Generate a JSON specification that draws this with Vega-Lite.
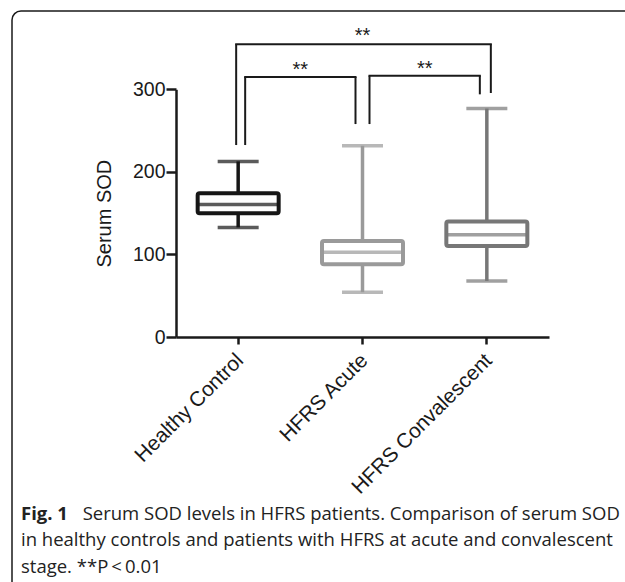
{
  "$schema": "https://vega.github.io/schema/vega-lite/v6.json",
  "width": 643,
  "height": 601,
  "autosize": "none",
  "padding": {"left": 12, "top": 11, "right": -30, "bottom": -30},
  "background": "white",
  "config": {
    "view": {"stroke": "#1a1a1a", "strokeWidth": 1.5, "cornerRadius": 9, "fill": "white"},
    "font": "Liberation Sans"
  },
  "title": {
    "text": "Fig. 1",
    "subtitle": [
      "\u200b\u2003\u2003\u2003\u2004Serum SOD levels in HFRS patients. Comparison of serum SOD",
      "in healthy controls and patients with HFRS at acute and convalescent",
      "stage. **P\u2009<\u20090.01"
    ],
    "orient": "top",
    "anchor": "start",
    "frame": "group",
    "offset": 0,
    "dx": 9,
    "dy": 580,
    "baseline": "alphabetic",
    "font": "Open Sans",
    "fontSize": 18.5,
    "fontWeight": "bold",
    "color": "#222222",
    "subtitleFont": "Open Sans",
    "subtitleFontSize": 18.5,
    "subtitleColor": "#222222",
    "subtitleLineHeight": 26.5,
    "subtitlePadding": -18.5
  },
  "datasets": {
    "boxes": [
      {"group": "Healthy Control", "lower": 132.7, "q1": 150, "median": 160.5, "q3": 174.2, "upper": 212.7},
      {"group": "HFRS Acute", "lower": 54.2, "q1": 88.2, "median": 102.5, "q3": 116.4, "upper": 231.5},
      {"group": "HFRS Convalescent", "lower": 67.9, "q1": 110.3, "median": 123.7, "q3": 139.9, "upper": 276.7}
    ],
    "outer": [
      {"from": "Healthy Control", "to": "HFRS Convalescent", "mid": "HFRS Acute", "top": 354.6, "left_end": 232.5, "right_end": 295.5, "label": "**"}
    ],
    "inner": [
      {"from": "Healthy Control", "to": "HFRS Acute", "top": 314.9, "left_end": 232.5, "right_end": 257.9, "label": "**"},
      {"from": "HFRS Acute", "to": "HFRS Convalescent", "top": 316.5, "left_end": 257.9, "right_end": 293.9, "label": "**"}
    ]
  },
  "layer": [
    {
      "data": {"name": "boxes"},
      "mark": {"type": "rule", "strokeWidth": 3.5},
      "encoding": {
        "x": {
          "field": "group", "type": "nominal", "sort": null,
          "scale": {"domain": ["Healthy Control", "HFRS Acute", "HFRS Convalescent"], "range": [164, 537], "paddingInner": 0, "paddingOuter": 0},
          "axis": {
            "orient": "bottom", "offset": -275, "title": null,
            "labelAngle": -45, "labelFont": "Liberation Sans", "labelFontSize": 20.8, "labelColor": "#1a1a1a",
            "labelPadding": 6, "labelOffset": -5, "labelLimit": 0, "tickSize": 7, "tickWidth": 2.5, "tickColor": "#1a1a1a",
            "domainWidth": 2.5, "domainColor": "#1a1a1a", "grid": false
          }
        },
        "y": {
          "field": "lower", "type": "quantitative",
          "scale": {"domain": [0, 300], "range": [326, 78.3], "nice": false, "zero": true},
          "axis": {
            "orient": "left", "offset": -164, "values": [0, 100, 200, 300],
            "title": "Serum SOD", "titleFont": "Liberation Sans", "titleFontSize": 20, "titleFontWeight": "normal",
            "titleColor": "#1a1a1a", "titlePadding": 18,
            "labelFont": "Liberation Sans", "labelFontSize": 19.5, "labelColor": "#1a1a1a", "labelPadding": 1,
            "tickSize": 10, "tickWidth": 2.5, "tickColor": "#1a1a1a",
            "domainWidth": 2.5, "domainColor": "#1a1a1a", "grid": false
          }
        },
        "y2": {"field": "upper"},
        "color": {"field": "group", "type": "nominal", "scale": {"domain": ["Healthy Control", "HFRS Acute", "HFRS Convalescent"], "range": ["#161616", "#9a9a9a", "#777777"]}, "legend": null}
      }
    },
    {
      "data": {"name": "boxes"},
      "mark": {"type": "bar", "width": 81, "fill": "white", "strokeWidth": 4, "cornerRadius": 2},
      "encoding": {
        "x": {"field": "group", "type": "nominal", "sort": null},
        "y": {"field": "q1", "type": "quantitative"},
        "y2": {"field": "q3"},
        "stroke": {"field": "group", "type": "nominal", "scale": {"domain": ["Healthy Control", "HFRS Acute", "HFRS Convalescent"], "range": ["#161616", "#9a9a9a", "#777777"]}, "legend": null}
      }
    },
    {
      "data": {"name": "boxes"},
      "mark": {"type": "tick", "size": 81, "thickness": 3.5},
      "encoding": {
        "x": {"field": "group", "type": "nominal", "sort": null},
        "y": {"field": "median", "type": "quantitative"},
        "color": {"field": "group", "type": "nominal", "legend": null}
      }
    },
    {
      "data": {"name": "boxes"},
      "mark": {"type": "tick", "size": 41, "thickness": 3.5},
      "encoding": {
        "x": {"field": "group", "type": "nominal", "sort": null},
        "y": {"field": "upper", "type": "quantitative"},
        "color": {"field": "group", "type": "nominal", "legend": null}
      }
    },
    {
      "data": {"name": "boxes"},
      "mark": {"type": "tick", "size": 41, "thickness": 3.5},
      "encoding": {
        "x": {"field": "group", "type": "nominal", "sort": null},
        "y": {"field": "lower", "type": "quantitative"},
        "color": {"field": "group", "type": "nominal", "legend": null}
      }
    },
    {
      "data": {"name": "outer"},
      "mark": {"type": "rule", "strokeWidth": 2, "color": "#1a1a1a", "strokeCap": "square", "xOffset": -2, "x2Offset": 4},
      "encoding": {
        "x": {"field": "from", "type": "nominal"},
        "x2": {"field": "to"},
        "y": {"field": "top", "type": "quantitative"}
      }
    },
    {
      "data": {"name": "outer"},
      "mark": {"type": "rule", "strokeWidth": 2, "color": "#1a1a1a", "xOffset": -2},
      "encoding": {
        "x": {"field": "from", "type": "nominal"},
        "y": {"field": "top", "type": "quantitative"},
        "y2": {"field": "left_end"}
      }
    },
    {
      "data": {"name": "outer"},
      "mark": {"type": "rule", "strokeWidth": 2, "color": "#1a1a1a", "xOffset": 4},
      "encoding": {
        "x": {"field": "to", "type": "nominal"},
        "y": {"field": "top", "type": "quantitative"},
        "y2": {"field": "right_end"}
      }
    },
    {
      "data": {"name": "outer"},
      "mark": {"type": "text", "fontSize": 20, "font": "Liberation Sans", "baseline": "alphabetic", "dy": -2, "color": "#1a1a1a"},
      "encoding": {
        "x": {"field": "mid", "type": "nominal"},
        "y": {"field": "top", "type": "quantitative"},
        "text": {"field": "label"}
      }
    },
    {
      "data": {"name": "inner"},
      "mark": {"type": "rule", "strokeWidth": 2, "color": "#1a1a1a", "strokeCap": "square", "xOffset": 7, "x2Offset": -7},
      "encoding": {
        "x": {"field": "from", "type": "nominal"},
        "x2": {"field": "to"},
        "y": {"field": "top", "type": "quantitative"}
      }
    },
    {
      "data": {"name": "inner"},
      "mark": {"type": "rule", "strokeWidth": 2, "color": "#1a1a1a", "xOffset": 7},
      "encoding": {
        "x": {"field": "from", "type": "nominal"},
        "y": {"field": "top", "type": "quantitative"},
        "y2": {"field": "left_end"}
      }
    },
    {
      "data": {"name": "inner"},
      "mark": {"type": "rule", "strokeWidth": 2, "color": "#1a1a1a", "xOffset": -7},
      "encoding": {
        "x": {"field": "to", "type": "nominal"},
        "y": {"field": "top", "type": "quantitative"},
        "y2": {"field": "right_end"}
      }
    },
    {
      "data": {"name": "inner"},
      "mark": {"type": "text", "fontSize": 20, "font": "Liberation Sans", "baseline": "alphabetic", "dy": -1, "color": "#1a1a1a"},
      "encoding": {
        "x": {"field": "from", "type": "nominal", "bandPosition": 1},
        "y": {"field": "top", "type": "quantitative"},
        "text": {"field": "label"}
      }
    }
  ]
}
